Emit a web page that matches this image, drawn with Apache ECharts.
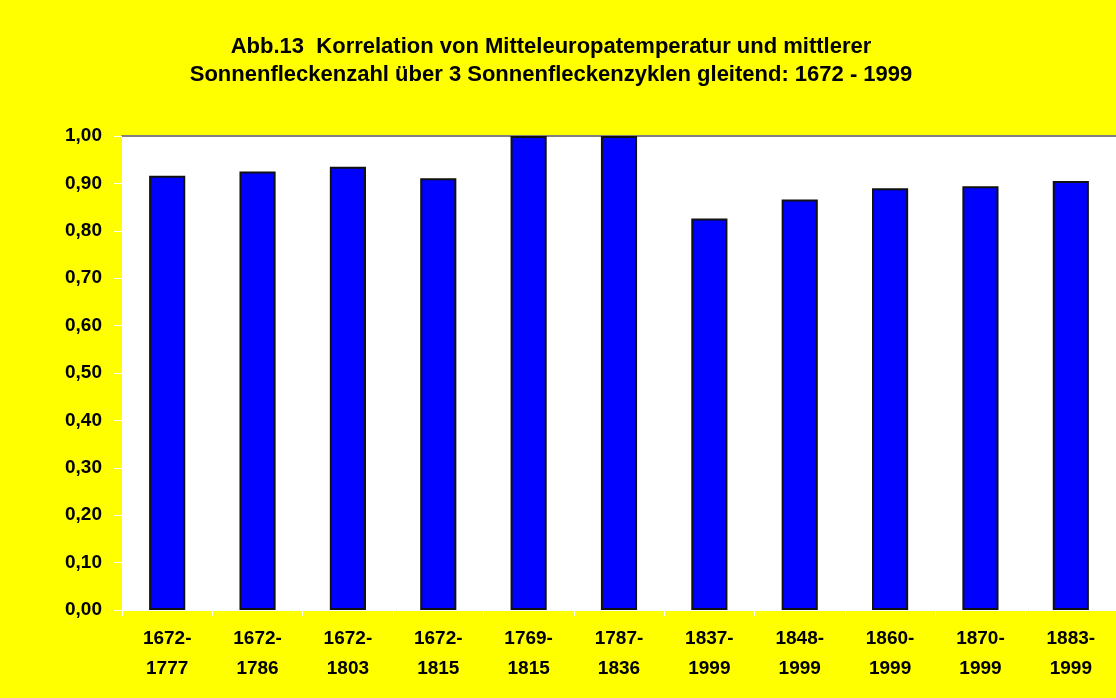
<!DOCTYPE html>
<html>
<head>
<meta charset="utf-8">
<title>Abb.13</title>
<script src="https://cdn.jsdelivr.net/npm/echarts@6/dist/echarts.min.js"></script>
<style>
    html, body { margin: 0; padding: 0; background: #ffff00; }
    #chart { width: 1116px; height: 698px; }
</style>
</head>
<body>
<div id="chart"></div>
<script>
'use strict';

// Zeiträume (3 Sonnenfleckenzyklen gleitend)
const perioden = ['1672-\n1777', '1672-\n1786', '1672-\n1803', '1672-\n1815', '1769-\n1815', '1787-\n1836',
    '1837-\n1999', '1848-\n1999', '1860-\n1999', '1870-\n1999', '1883-\n1999'];
// Korrelationskoeffizienten
const korrelation = [0.916, 0.925, 0.935, 0.911, 1.00, 1.00, 0.826, 0.866, 0.890, 0.894, 0.905];
const yTicks = {min: 0, max: 1, interval: 0.1};

const titelZeilen = [
    'Abb.13  Korrelation von Mitteleuropatemperatur und mittlerer',
    'Sonnenfleckenzahl über 3 Sonnenfleckenzyklen gleitend: 1672 - 1999'
];

let myChart = echarts.init(document.getElementById('chart'));

let option = {
    backgroundColor: '#ffff00',
    animation: false,
    title: {
        text: titelZeilen.join('\n'),
        left: 546,
        top: 28,
        textAlign: 'center',
        textStyle: {
            fontFamily: 'Liberation Sans',
            fontWeight: 'bold',
            fontSize: 22,
            lineHeight: 28,
            color: '#000'
        }
    },
    grid: {
        left: 122,
        right: -6,
        top: 136,
        bottom: 88,
        show: true,
        backgroundColor: '#ffffff',
        borderWidth: 0
    },
    xAxis: [
        {
            type: 'category',
            data: perioden,
            axisLine: {show: true, lineStyle: {color: '#ffffff', width: 1}},
            axisTick: {show: true, length: 6, lineStyle: {color: '#ffffff'}},
            axisLabel: {
                margin: 14,
                fontFamily: 'Liberation Sans',
                fontWeight: 'bold',
                fontSize: 19,
                lineHeight: 30,
                color: '#000'
            }
        },
        {
            // graue Linie am oberen Rand der Zeichenfläche
            type: 'category',
            position: 'top',
            data: perioden,
            axisLine: {show: true, lineStyle: {color: '#808080', width: 2}},
            axisTick: {show: false},
            axisLabel: {show: false}
        }
    ],
    yAxis: {
        type: 'value',
        min: yTicks.min,
        max: yTicks.max,
        interval: yTicks.interval,
        axisLine: {show: true, lineStyle: {color: '#ffffff'}},
        axisTick: {show: true, length: 8, lineStyle: {color: '#ffffff'}},
        splitLine: {show: false},
        axisLabel: {
            margin: 20,
            fontFamily: 'Liberation Sans',
            fontWeight: 'bold',
            fontSize: 19,
            color: '#000',
            formatter: function (v) {
                return v.toFixed(2).replace('.', ',');
            }
        }
    },
    series: [
        {
            type: 'bar',
            data: korrelation,
            barWidth: '40%',
            itemStyle: {
                color: '#0000ff',
                borderColor: '#111111',
                borderWidth: 2
            }
        }
    ]
};

myChart.setOption(option);
</script>
</body>
</html>
